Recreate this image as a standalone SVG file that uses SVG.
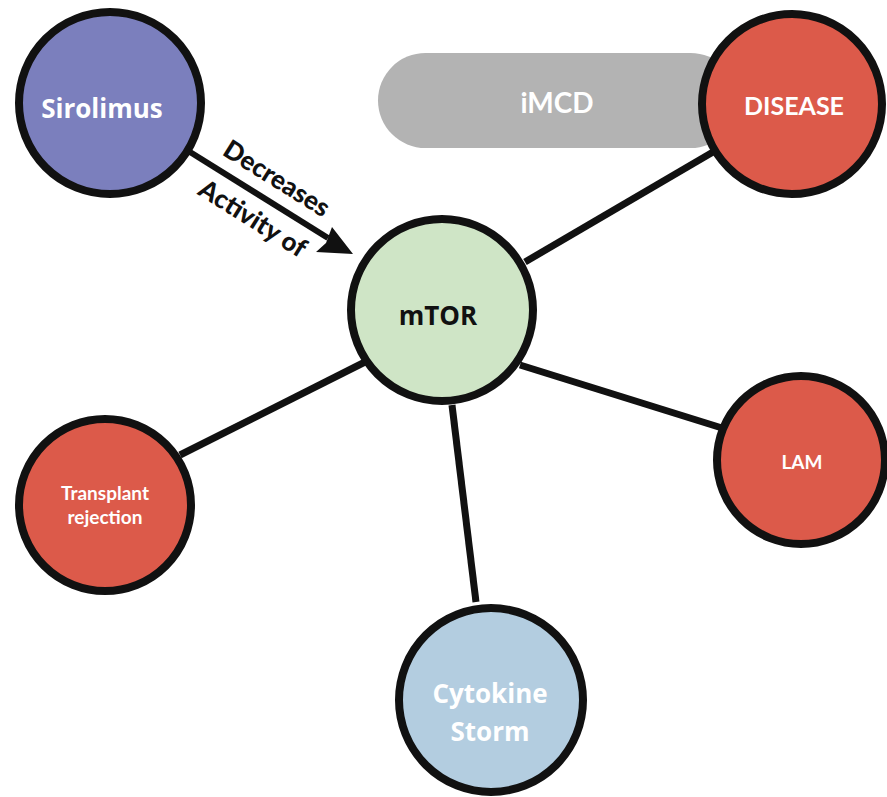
<svg xmlns="http://www.w3.org/2000/svg" width="887" height="797" viewBox="0 0 887 797">
<style>
.n{stroke:#111;stroke-width:8}
.red{fill:#dc5a4a}
.t{font-family:"Lato","Open Sans","Liberation Sans",sans-serif;font-weight:bold;fill:#fff;text-anchor:middle;dominant-baseline:central}
.c{font-family:"Open Sans","Liberation Sans",sans-serif;font-weight:bold;fill:#fff;text-anchor:middle;dominant-baseline:central}
.e{stroke:#111;stroke-width:7;fill:none}
.lbl{font-family:"Lato","Liberation Sans",sans-serif;font-weight:900;fill:#111;font-size:26px;text-anchor:middle}
</style>
<rect width="887" height="797" fill="#fff"/>
<g id="imcd">
<rect x="378" y="53" width="360" height="95" rx="47.5" fill="#b3b3b3"/>
<text class="t" x="557" y="102" font-size="28">iMCD</text>
</g>
<g id="connectors">
<line class="e" x1="525" y1="262" x2="713" y2="152"/>
<line class="e" x1="520" y1="365" x2="722" y2="428"/>
<line class="e" x1="365" y1="362" x2="180" y2="455"/>
<line class="e" x1="452" y1="405" x2="476" y2="602"/>
<line stroke="#111" stroke-width="6" x1="190" y1="152" x2="328" y2="238"/>
<path d="M353,254 L316,252 L326,243 L332,227 z" fill="#111"/>
<text class="lbl" transform="translate(272,186) rotate(32)">Decreases</text>
<text class="lbl" transform="translate(248,226) rotate(32)">Activity of</text>
</g>
<g id="sirolimus">
<circle class="n" cx="110" cy="103" r="91" fill="#7b7fbd"/>
<text class="c" x="102" y="108" font-size="26">Sirolimus</text>
</g>
<g id="disease">
<circle class="n red" cx="792" cy="104" r="90"/>
<text class="t" x="794" y="105" font-size="25">DISEASE</text>
</g>
<g id="mtor">
<circle class="n" cx="442" cy="310" r="91" fill="#cfe5c6"/>
<text class="c" x="438" y="315" font-size="26" style="fill:#111">mTOR</text>
</g>
<g id="lam">
<circle class="n red" cx="801" cy="460" r="84"/>
<text class="t" x="802" y="461" font-size="19">LAM</text>
</g>
<g id="transplant">
<circle class="n red" cx="105" cy="505" r="86"/>
<text class="t" x="105" y="492" font-size="19">Transplant</text>
<text class="t" x="105" y="516" font-size="19">rejection</text>
</g>
<g id="cytokine">
<circle class="n" cx="491" cy="700" r="92" fill="#b3cde0"/>
<text class="c" x="490" y="693" font-size="26">Cytokine</text>
<text class="c" x="490" y="731" font-size="26">Storm</text>
</g>
</svg>
